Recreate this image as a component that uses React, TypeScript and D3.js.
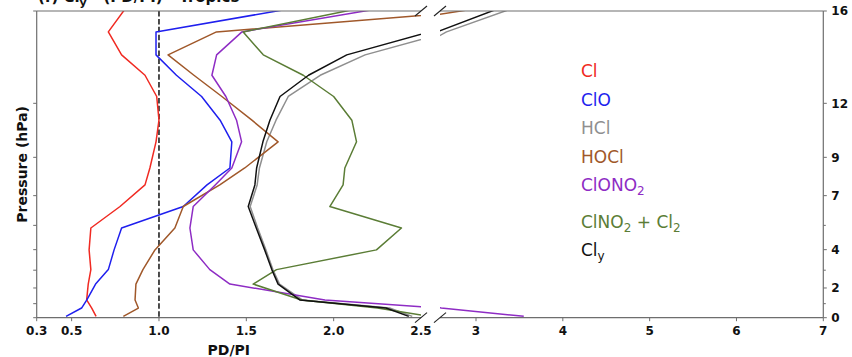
import React from "react";
import * as d3 from "d3";

// Model pressure levels (hPa), top of the profile first
const pressureLevels = [90, 117, 139, 162, 190, 227, 267, 325, 369, 434, 510, 601, 697, 777, 875, 930, 990];

// PD/PI ratios for each chlorine species at those levels
const clRatio = [0.856, 0.71, 0.786, 0.92, 0.987, 1.0, 0.983, 0.948, 0.92, 0.777, 0.61, 0.6, 0.61, 0.595, 0.586, 0.615, 0.64];
const cloRatio = [2.14, 0.983, 0.983, 1.1, 1.244, 1.35, 1.417, 1.406, 1.275, 1.139, 0.786, 0.743, 0.71, 0.637, 0.587, 0.557, 0.468];
const hclRatio = [3.79, 2.66, 2.18, 1.923, 1.74, 1.67, 1.617, 1.575, 1.562, 1.522, 1.565, 1.612, 1.652, 1.69, 1.82, 2.32, 2.45];
const hoclRatio = [3.83, 1.329, 1.052, 1.2, 1.36, 1.532, 1.682, 1.491, 1.348, 1.139, 1.091, 0.977, 0.908, 0.868, 0.863, 0.882, 0.796];
const clono2Ratio = [2.65, 1.475, 1.33, 1.303, 1.383, 1.444, 1.473, 1.417, 1.322, 1.196, 1.177, 1.196, 1.291, 1.406, 1.95, 2.6, 3.55];
const clno2Cl2Ratio = [2.47, 1.482, 1.597, 1.826, 2.0, 2.104, 2.131, 2.064, 2.054, 1.978, 2.388, 2.245, 1.673, 1.539, 1.816, 2.25, 2.55];
const clyRatio = [3.61, 2.55, 2.075, 1.856, 1.693, 1.635, 1.595, 1.559, 1.549, 1.511, 1.557, 1.605, 1.646, 1.682, 1.806, 2.3, 2.43];

// Legend labels ("_x" marks a subscript character)
const speciesLabels = ["Cl", "ClO", "HCl", "HOCl", "ClONO_2", "ClNO_2 + Cl_2", "Cl_y"];
const speciesRatios = [clRatio, cloRatio, hclRatio, hoclRatio, clono2Ratio, clno2Cl2Ratio, clyRatio];
const speciesColors = ["#f02a22", "#1f1fee", "#8f8f8f", "#a0582a", "#8e2cc4", "#5b7d36", "#111111"];

// Axis ticks
const leftXTicks = [0.3, 0.5, 1.0, 1.5, 2.0, 2.5];
const rightXTicks = [3, 4, 5, 6, 7];
const pressureTicks = [100, 200, 300, 400, 500, 600, 700, 800, 900, 1000];
const altitudeTickPressures = [100, 200, 300, 400, 600, 800, 1000];
const altitudeTickLabels = ["16", "12", "9", "7", "4", "2", "0"];
const altitudeMinorPressures = [500, 700, 900];

const FONT = "DejaVu Sans, Verdana, sans-serif";

function RichText({ label, subSize, subShift }: { label: string; subSize: number; subShift: number }) {
  const parts: React.ReactNode[] = [];
  const re = /_(\w)/g;
  let last = 0;
  let m: RegExpExecArray | null;
  let k = 0;
  let shifted = false;
  while ((m = re.exec(label)) !== null) {
    const before = label.slice(last, m.index);
    if (before) {
      parts.push(
        <tspan key={k++} dy={shifted ? -subShift : 0}>
          {before}
        </tspan>
      );
      shifted = false;
    }
    parts.push(
      <tspan key={k++} fontSize={subSize} dy={shifted ? 0 : subShift}>
        {m[1]}
      </tspan>
    );
    shifted = true;
    last = m.index + m[0].length;
  }
  const rest = label.slice(last);
  if (rest) {
    parts.push(
      <tspan key={k++} dy={shifted ? -subShift : 0}>
        {rest}
      </tspan>
    );
  }
  return <>{parts}</>;
}

export default function App() {
  const W = 852;
  const H = 357;
  const top = 11;
  const bottom = 317.7;
  const leftX0 = 36.7;
  const leftX1 = 421;
  const rightX0 = 440;
  const rightX1 = 823.3;

  const y = d3.scaleLog().domain([100, 1000]).range([top, bottom]);
  const xL = d3.scaleLinear().domain([0.3, 2.5]).range([leftX0, leftX1]);
  const xR = d3.scaleLinear().domain([3, 7]).range([476, rightX1]);

  const makeLine = (xs: d3.ScaleLinear<number, number>) =>
    d3
      .line<[number, number]>()
      .x((d) => xs(d[0]))
      .y((d) => y(d[1]));

  const lineL = makeLine(xL);
  const lineR = makeLine(xR);

  const profiles = speciesRatios.map((vals) =>
    vals.map((v, i) => [v, pressureLevels[i]] as [number, number])
  );

  const spine = "#6e6e6e";
  const tickLen = 3.5;

  const breakMark = (cx: number, cy: number, key: string) => (
    <line key={key} x1={cx - 6} y1={cy + 5} x2={cx + 6} y2={cy - 5} stroke="#222" strokeWidth={1.1} />
  );

  const legendBaselines = [77.3, 105.7, 134.3, 162.7, 191, 227.7, 256];

  return (
    <svg
      width={W}
      height={H}
      viewBox={`0 0 ${W} ${H}`}
      style={{ position: "absolute", left: 0, top: 0, background: "#fff", fontFamily: FONT }}
    >
      <defs>
        <clipPath id="clipLeft">
          <rect x={leftX0} y={top} width={leftX1 - leftX0} height={bottom - top} />
        </clipPath>
        <clipPath id="clipRight">
          <rect x={rightX0} y={top} width={rightX1 - rightX0} height={bottom - top} />
        </clipPath>
      </defs>

      {/* title (sits at the very top edge) */}
      <text x={38} y={2} fontSize={15} fontWeight="bold" fill="#111">
        <RichText label="(f) Cl_y - (PD/PI) - Tropics" subSize={11} subShift={4} />
      </text>

      {/* left panel profiles */}
      <g clipPath="url(#clipLeft)">
        <line
          x1={xL(1)}
          x2={xL(1)}
          y1={top}
          y2={bottom}
          stroke="#111"
          strokeWidth={1.5}
          strokeDasharray="5.5,2.4"
        />
        {profiles.map((p, i) => (
          <path key={i} d={lineL(p) || ""} fill="none" stroke={speciesColors[i]} strokeWidth={1.5} strokeLinejoin="round" />
        ))}
      </g>

      {/* right panel profiles */}
      <g clipPath="url(#clipRight)">
        {profiles.map((p, i) => (
          <path key={i} d={lineR(p) || ""} fill="none" stroke={speciesColors[i]} strokeWidth={1.5} strokeLinejoin="round" />
        ))}
      </g>

      {/* spines */}
      <g stroke={spine} strokeWidth={1.2}>
        <line x1={leftX0} x2={leftX0} y1={top} y2={bottom} />
        <line x1={leftX0} x2={leftX1} y1={top} y2={top} />
        <line x1={leftX0} x2={leftX1} y1={bottom} y2={bottom} />
        <line x1={rightX0} x2={rightX1} y1={top} y2={top} />
        <line x1={rightX0} x2={rightX1} y1={bottom} y2={bottom} />
        <line x1={rightX1} x2={rightX1} y1={top} y2={bottom} />
      </g>

      {/* broken-axis marks */}
      {breakMark(leftX1, top, "b1")}
      {breakMark(leftX1, bottom, "b2")}
      {breakMark(rightX0, top, "b3")}
      {breakMark(rightX0, bottom, "b4")}

      {/* left pressure ticks (unlabelled) */}
      {pressureTicks.map((p) => (
        <line key={`pl${p}`} x1={leftX0 - tickLen} x2={leftX0} y1={y(p)} y2={y(p)} stroke={spine} strokeWidth={1} />
      ))}

      {/* right altitude axis */}
      {altitudeTickPressures.map((p, i) => (
        <g key={`alt${p}`}>
          <line x1={rightX1} x2={rightX1 + tickLen} y1={y(p)} y2={y(p)} stroke={spine} strokeWidth={1} />
          <text
            x={rightX1 + 8}
            y={y(p)}
            dy="0.36em"
            fontSize={12}
            fontWeight="bold"
            fill="#111"
          >
            {altitudeTickLabels[i]}
          </text>
        </g>
      ))}
      {altitudeMinorPressures.map((p) => (
        <line key={`am${p}`} x1={rightX1} x2={rightX1 + 2.5} y1={y(p)} y2={y(p)} stroke={spine} strokeWidth={1} />
      ))}

      {/* x ticks */}
      {leftXTicks.map((t) => (
        <g key={`xl${t}`}>
          {t < 2.5 && (
            <line x1={xL(t)} x2={xL(t)} y1={bottom} y2={bottom + tickLen} stroke={spine} strokeWidth={1} />
          )}
          <text x={xL(t)} y={335} textAnchor="middle" fontSize={12} fontWeight="bold" fill="#111">
            {d3.format(".1f")(t)}
          </text>
        </g>
      ))}
      {rightXTicks.map((t) => (
        <g key={`xr${t}`}>
          <line x1={xR(t)} x2={xR(t)} y1={bottom} y2={bottom + tickLen} stroke={spine} strokeWidth={1} />
          <text x={xR(t)} y={335} textAnchor="middle" fontSize={12} fontWeight="bold" fill="#111">
            {t}
          </text>
        </g>
      ))}

      {/* axis titles */}
      <text x={(leftX0 + leftX1) / 2} y={355} textAnchor="middle" fontSize={14} fontWeight="bold" fill="#111">
        PD/PI
      </text>
      <text
        transform={`translate(27.3, ${(top + bottom) / 2}) rotate(-90)`}
        textAnchor="middle"
        fontSize={14}
        fontWeight="bold"
        fill="#111"
      >
        Pressure (hPa)
      </text>

      {/* legend */}
      {speciesLabels.map((lab, i) => (
        <text key={lab} x={581} y={legendBaselines[i]} fontSize={17} fill={speciesColors[i]}>
          <RichText label={lab} subSize={12} subShift={4} />
        </text>
      ))}
    </svg>
  );
}
